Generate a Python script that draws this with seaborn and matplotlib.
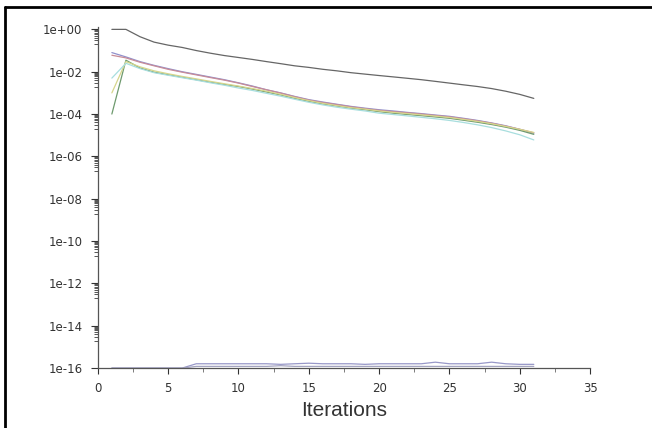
import matplotlib
matplotlib.use("Agg")
import matplotlib.pyplot as plt
import matplotlib.ticker as mticker
from matplotlib.lines import Line2D
import numpy as np
import seaborn as sns

# Scaled residuals per iteration
iterations = list(range(1, 32))

continuity = [1.0, 1.0, 0.45, 0.25, 0.18, 0.14, 0.1, 0.075, 0.058, 0.047,
              0.038, 0.03, 0.024, 0.019, 0.016, 0.013, 0.011, 0.009, 0.0077, 0.0066,
              0.0057, 0.0049, 0.0042, 0.0035, 0.0029, 0.0024, 0.002, 0.0016, 0.0012, 0.00085, 0.00055]
x_velocity = [0.08, 0.05, 0.03, 0.02, 0.014, 0.01, 0.0075, 0.0056, 0.0042, 0.003,
              0.0021, 0.0014, 0.001, 0.00068, 0.00048, 0.00037, 0.00029, 0.00023, 0.00019, 0.00016,
              0.00014, 0.00012, 0.000105, 9e-5, 7.8e-5, 6.3e-5, 5e-5, 3.8e-5, 2.8e-5, 1.9e-5, 1.25e-5]
y_velocity = [0.06, 0.045, 0.028, 0.019, 0.013, 0.0095, 0.0071, 0.0053, 0.004, 0.0029,
              0.002, 0.0014, 0.00098, 0.00066, 0.00046, 0.00035, 0.00028, 0.00022, 0.00018, 0.00015,
              0.00013, 0.000115, 0.0001, 8.6e-5, 7.4e-5, 6e-5, 4.8e-5, 3.7e-5, 2.7e-5, 1.9e-5, 1.3e-5]
z_velocity = [1e-4, 0.035, 0.015, 0.0095, 0.0072, 0.0055, 0.0042, 0.0032, 0.0025, 0.002,
              0.0015, 0.0011, 0.0008, 0.00055, 0.0004, 0.0003, 0.00024, 0.00019, 0.00016, 0.00013,
              0.00011, 9.6e-5, 8.4e-5, 7.3e-5, 6.3e-5, 5.1e-5, 4.1e-5, 3.2e-5, 2.4e-5, 1.7e-5, 1.1e-5]
energy = [1e-3, 0.03, 0.017, 0.011, 0.008, 0.006, 0.0046, 0.0035, 0.0027, 0.0021,
          0.0016, 0.0012, 0.00085, 0.0006, 0.00043, 0.00032, 0.00025, 0.0002, 0.00017, 0.00014,
          0.00012, 0.000105, 9.2e-5, 8e-5, 6.9e-5, 5.6e-5, 4.5e-5, 3.5e-5, 2.6e-5, 1.9e-5, 1.35e-5]
k_resid = [5e-3, 0.025, 0.014, 0.009, 0.0068, 0.0052, 0.004, 0.003, 0.0023, 0.0017,
           0.0013, 0.00095, 0.0007, 0.0005, 0.00036, 0.00027, 0.00021, 0.00017, 0.00014, 0.00011,
           9.5e-5, 8.2e-5, 7e-5, 6e-5, 5e-5, 4e-5, 3.1e-5, 2.3e-5, 1.6e-5, 1.05e-5, 6e-6]
species_a = [1e-16, 1e-16, 1e-16, 1e-16, 1e-16, 1e-16, 1.6e-16, 1.6e-16, 1.6e-16, 1.6e-16,
             1.6e-16, 1.6e-16, 1.5e-16, 1.6e-16, 1.7e-16, 1.6e-16, 1.6e-16, 1.6e-16, 1.5e-16, 1.6e-16,
             1.6e-16, 1.6e-16, 1.6e-16, 1.9e-16, 1.6e-16, 1.6e-16, 1.6e-16, 1.9e-16, 1.6e-16, 1.5e-16, 1.5e-16]
species_b = [1e-16, 1e-16, 1e-16, 1e-16, 1e-16, 1e-16, 1.2e-16, 1.2e-16, 1.2e-16, 1.2e-16,
             1.2e-16, 1.2e-16, 1.3e-16, 1.2e-16, 1.2e-16, 1.2e-16, 1.2e-16, 1.2e-16, 1.2e-16, 1.2e-16,
             1.2e-16, 1.2e-16, 1.2e-16, 1.2e-16, 1.2e-16, 1.2e-16, 1.2e-16, 1.2e-16, 1.2e-16, 1.2e-16, 1.2e-16]

series = [
    (continuity, "#666666"),
    (x_velocity, "#9090cc"),
    (y_velocity, "#c88c98"),
    (z_velocity, "#6e9a6e"),
    (energy, "#d6d68c"),
    (k_resid, "#a8dede"),
    (species_a, "#9898c8"),
    (species_b, "#a4a4c0"),
]

sns.set_style("white", {"ytick.left": True, "xtick.bottom": True})
plt.rcParams["font.family"] = ["DejaVu Sans"]

fig = plt.figure(figsize=(6.52, 4.28), dpi=100)
ax = fig.add_axes([0.150, 0.140, 0.755, 0.797])

for vals, col in series:
    sns.lineplot(x=iterations, y=vals, ax=ax, color=col, linewidth=0.9)

ax.set_yscale("log")
ax.set_ylim(1e-16, 1.3)
ax.set_xlim(0, 35)

major_exp = list(range(-16, 1, 2))
minor_y = [m * 10.0 ** (e - 1) for e in major_exp[1:] for m in range(2, 10)]
ax.yaxis.set_major_locator(mticker.FixedLocator([10.0 ** e for e in major_exp]))
ax.yaxis.set_minor_locator(mticker.FixedLocator(minor_y))
ax.yaxis.set_major_formatter(mticker.FuncFormatter(lambda v, p: "1e{:+03d}".format(int(round(np.log10(v))))))
ax.yaxis.set_minor_formatter(mticker.NullFormatter())
ax.xaxis.set_major_locator(mticker.MultipleLocator(5))
ax.xaxis.set_minor_locator(mticker.MultipleLocator(2.5))

ax.tick_params(axis="y", which="major", left=True, direction="out", length=5, width=0.8, labelsize=8.5, colors="#333333")
ax.tick_params(axis="y", which="minor", left=True, direction="out", length=3, width=0.7, colors="#555555")
ax.tick_params(axis="x", which="major", bottom=True, direction="out", length=4, width=0.8, labelsize=8.5, colors="#333333")
ax.tick_params(axis="x", which="minor", bottom=True, direction="out", length=3, width=0.6, colors="#666666")
ax.tick_params(axis="both", which="major", pad=6)

sns.despine(ax=ax)
for s in ["left", "bottom"]:
    ax.spines[s].set_color("#555555")
    ax.spines[s].set_linewidth(0.9)

ax.set_xlabel("Iterations", fontsize=15, family="Liberation Sans", color="#333333", labelpad=4)

# scanned page frame
fig.add_artist(Line2D([0.007, 0.007], [0, 0.983], transform=fig.transFigure, color="black", linewidth=2))
fig.add_artist(Line2D([0.007, 1.0], [0.983, 0.983], transform=fig.transFigure, color="black", linewidth=2))

fig.savefig("out.png", dpi=100)
